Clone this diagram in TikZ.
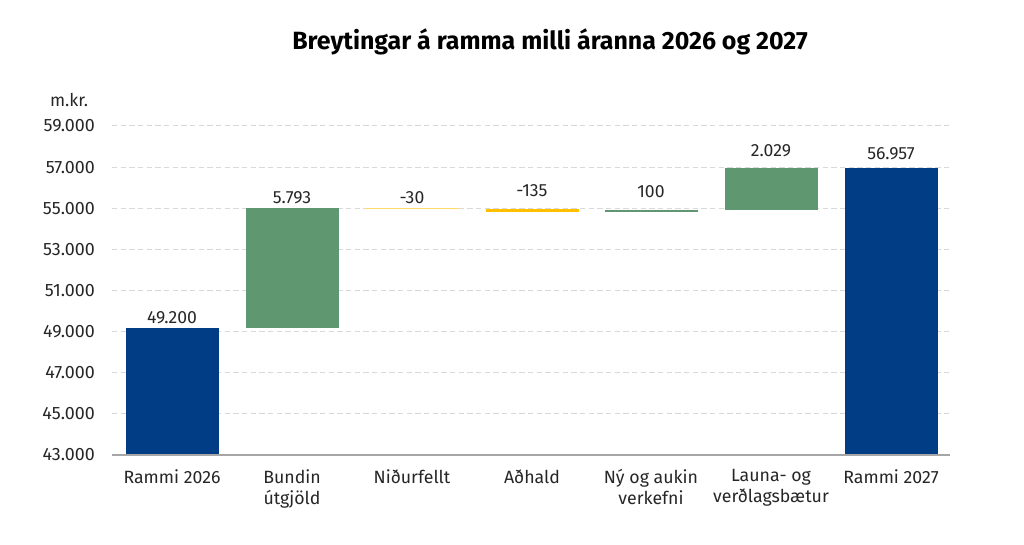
\documentclass[tikz,border=0pt]{standalone}
\usepackage{fontspec}
\setmainfont{Fira Sans}
\definecolor{rammablar}{HTML}{003D85}
\definecolor{graenn}{HTML}{5F9870}
\definecolor{gulur}{HTML}{FFC000}
\definecolor{ljosgulur}{HTML}{FFD966}
\definecolor{grind}{HTML}{D9D9D9}
\definecolor{ass}{HTML}{A6A6A6}
\definecolor{texti}{HTML}{262626}
\tikzset{
  grid line/.style={grind, line width=0.75pt, dash pattern=on 4pt off 2.5pt},
  axis line/.style={ass, line width=0.9pt},
  tick/.style={text=texti, anchor=east, inner sep=0pt, font=\fontsize{13.4}{15}\selectfont},
  value/.style={text=texti, inner sep=0pt, font=\fontsize{13.2}{15}\selectfont},
  category/.style={text=texti, anchor=north, align=center, inner sep=0pt, font=\fontsize{13.3}{15.75}\selectfont}
}
\begin{document}
\begin{tikzpicture}[x=0.75pt, y=-0.75pt]
\useasboundingbox (0,0) rectangle (1024,545);
\node[font=\fontsize{18.7}{23}\selectfont\bfseries] (titill) at (550,42) {Breytingar á ramma milli áranna 2026 og 2027};
\node[value] (eining) at (69,100) {m.kr.};

% values in thousands above 43.000
\begin{scope}[shift={(0,455)}, y=15.421875pt]
\foreach \v in {0,2,...,16} {
  \draw[grid line] (112,\v) -- (950,\v);
  \pgfmathtruncatemacro\lab{43+\v}
  \node[tick] (y\v) at (95,\v) {\lab.000};
}
\foreach \cx/\lo/\hi/\col in {172/0/6.2/rammablar, 292/6.2/11.993/graenn, 412/11.963/11.993/ljosgulur,
    532/11.828/11.963/gulur, 651/11.828/11.928/graenn, 771/11.928/13.957/graenn, 891/0/13.957/rammablar}
  \fill[\col] (\cx-46.5,\lo) rectangle (\cx+46.5,\hi);
\draw[axis line] (112,0) -- (950,0);
\end{scope}

% data labels
\node[value] (v1) at (172,317.5) {49.200};
\node[value] (v2) at (292,197.5) {5.793};
\node[value] (v3) at (412,198) {-30};
\node[value] (v4) at (532,191) {-135};
\node[value] (v5) at (651,192) {100};
\node[value] (v6) at (771,151) {2.029};
\node[value] (v7) at (891,154) {56.957};

% categories
\node[category] (c1) at (172,469) {Rammi 2026};
\node[category] (c2) at (292,469) {Bundin\\útgjöld};
\node[category] (c3) at (412,469) {Niðurfellt};
\node[category] (c4) at (532,469) {Aðhald};
\node[category] (c5) at (651,469) {Ný og aukin\\verkefni};
\node[category] (c6) at (771,469) {Launa- og\\verðlagsbætur};
\node[category] (c7) at (891,469) {Rammi 2027};
\end{tikzpicture}
\end{document}
